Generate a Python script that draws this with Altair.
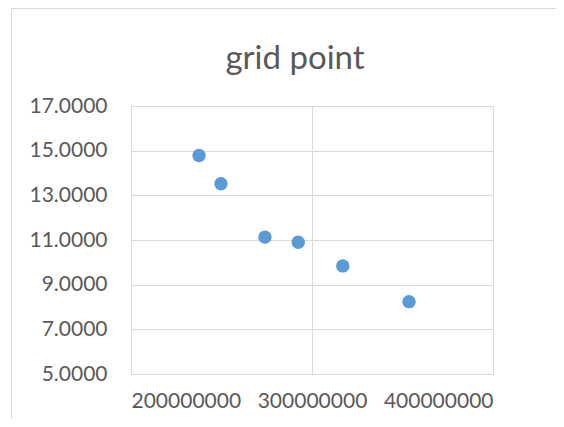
import altair as alt
import pandas as pd

# data
x_values = [237600000, 249700000, 274000000, 292400000, 317000000, 353600000]
y_values = [14.78, 13.52, 11.13, 10.90, 9.84, 8.24]
x_ticks = [200000000, 300000000, 400000000]
y_ticks = [5, 7, 9, 11, 13, 15, 17]
title_text = "grid point"

df = pd.DataFrame({"x": x_values, "y": y_values})

FONT = "Lato"
GRID = "#d9d9d9"
TEXT = "#595959"

points = alt.Chart(df).mark_circle(size=180, color="#5B9BD5", opacity=1).encode(
    x=alt.X(
        "x:Q",
        scale=alt.Scale(domain=[200000000, 400000000], nice=False, zero=False),
        axis=alt.Axis(
            values=x_ticks, format="d", title=None, grid=True, gridColor=GRID,
            domain=False, ticks=False, labelPadding=16, labelFontSize=21,
            labelFont=FONT, labelColor=TEXT,
        ),
    ),
    y=alt.Y(
        "y:Q",
        scale=alt.Scale(domain=[5, 17], nice=False, zero=False),
        axis=alt.Axis(
            values=y_ticks, format=".4f", title=None, grid=True, gridColor=GRID,
            domain=False, ticks=False, labelPadding=24, labelFontSize=21,
            labelFont=FONT, labelColor=TEXT,
        ),
    ),
)

border = alt.Chart(pd.DataFrame({"a": [0]})).mark_rect(
    filled=False, stroke=GRID, strokeWidth=1
).encode(
    x=alt.value(-119.5), y=alt.value(-97.5), x2=alt.value(700), y2=alt.value(600)
)

chart = alt.layer(border, points).properties(
    width=362,
    height=268,
    autosize=alt.AutoSizeParams(type="none"),
    padding={"left": 123, "top": 98, "right": 63, "bottom": 45},
    title=alt.TitleParams(
        title_text, fontSize=33, font=FONT, color=TEXT, fontWeight="normal",
        anchor="middle", frame="group", dx=-17, offset=-68,
    ),
).configure_view(stroke=GRID, strokeWidth=1).configure(background="white")

chart.save("out.html", embed_options={"renderer": "svg", "actions": False})
